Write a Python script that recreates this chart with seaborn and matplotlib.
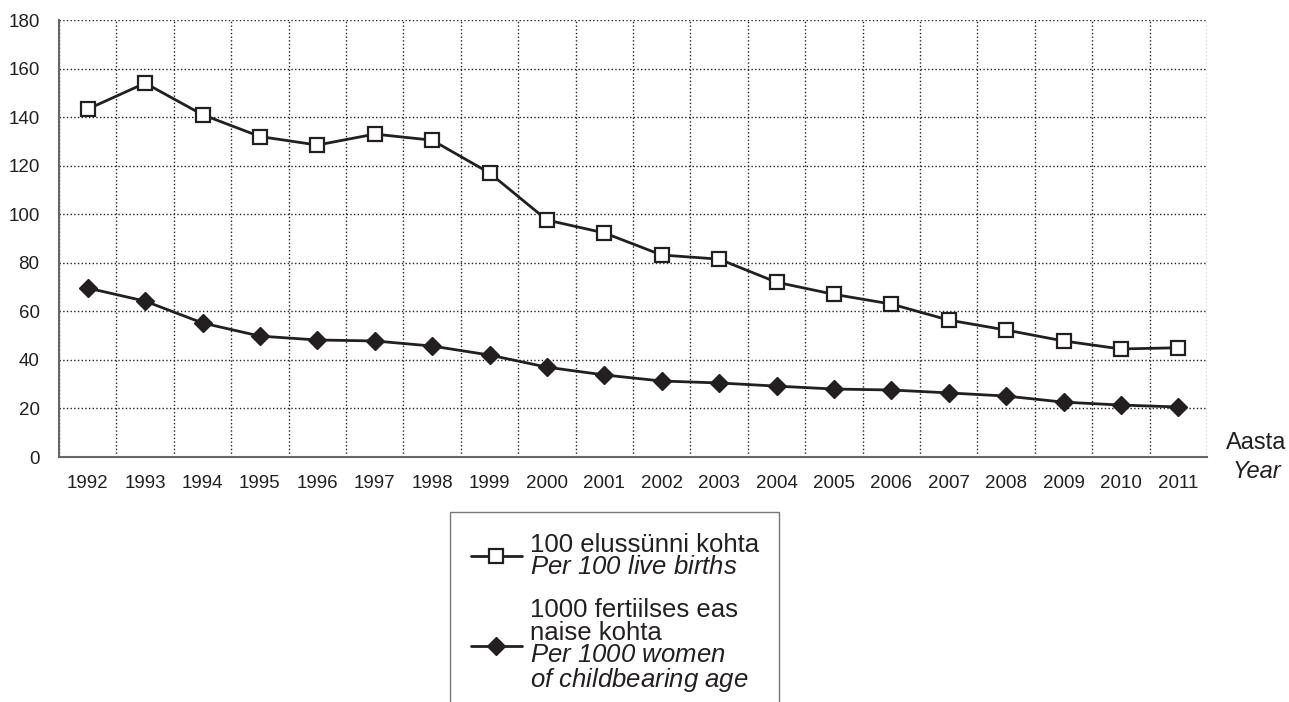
import numpy as np
import pandas as pd
import seaborn as sns
import matplotlib.pyplot as plt
from matplotlib.ticker import NullFormatter

years = [str(y) for y in range(1992, 2012)]
per_births = [143.3, 154, 141, 132, 128.5, 133, 130.5, 117, 97.6, 92.3,
              83.2, 81.5, 72, 67, 63, 56.4, 52.3, 47.8, 44.5, 45]
per_women = [69.6, 64.2, 55.2, 49.8, 48.2, 47.8, 45.7, 42, 37, 33.8,
             31.3, 30.5, 29.2, 28, 27.6, 26.4, 25.1, 22.6, 21.4, 20.6]

# italic english lines go through mathtext (rm and it both mapped to italic)
lab_births = "100 elussünni kohta\n$\\it{Per\\ 100\\ live\\ births}$"
lab_women = ("1000 fertiilses eas\nnaise kohta\n"
             "$\\it{Per\\ 1000\\ women}$\n$\\it{of\\ childbearing\\ age}$")

sns.set_style("white")
plt.rcParams["font.family"] = ["Liberation Sans", "DejaVu Sans"]
plt.rcParams["mathtext.fontset"] = "custom"
plt.rcParams["mathtext.rm"] = "Liberation Sans:italic"
plt.rcParams["mathtext.it"] = "Liberation Sans:italic"

ink = "#231f20"

fig = plt.figure(figsize=(12.89, 7.02), dpi=100)
ax = fig.add_axes([0.0458, 0.349, 0.8906, 0.6225])

df = pd.DataFrame({"Aasta": years, "births": per_births, "women": per_women})

sns.lineplot(data=df, x="Aasta", y="births", ax=ax, color=ink, lw=2,
             marker="s", markersize=10.5, markerfacecolor="white",
             markeredgecolor=ink, markeredgewidth=1.6, label=lab_births)
sns.lineplot(data=df, x="Aasta", y="women", ax=ax, color=ink, lw=2,
             marker="D", markersize=9.5, markerfacecolor=ink,
             markeredgecolor=ink, markeredgewidth=1, label=lab_women)

ax.set_xlim(-0.5, len(years) - 0.5)
ax.set_ylim(0, 180)
ax.set_yticks(range(0, 181, 20))
ax.set_xticks(np.arange(-0.5, len(years), 1))
ax.xaxis.set_major_formatter(NullFormatter())
ax.set_xticks(range(len(years)), labels=years, minor=True)
ax.set_xlabel("")
ax.set_ylabel("")

ax.set_axisbelow(True)
ax.grid(which="major", ls=":", color="#222222", lw=1)
for s in ["top", "right"]:
    ax.spines[s].set_visible(False)
for s in ["left", "bottom"]:
    ax.spines[s].set_color("#666666")
    ax.spines[s].set_linewidth(1.5)

ax.tick_params(axis="x", which="major", length=7, width=1.2, color="#666666")
ax.tick_params(axis="x", which="minor", length=0, pad=13)
ax.tick_params(axis="y", length=6, width=1.2, color="#666666", pad=8)
for t in ax.get_xticklabels(minor=True) + ax.get_yticklabels():
    t.set_fontsize(13.5)
    t.set_color(ink)

fig.text(1256 / 1289, 1 - 443 / 702, "Aasta", ha="center", va="center",
         fontsize=17, color=ink)
fig.text(1257 / 1289, 1 - 472 / 702, "Year", ha="center", va="center",
         fontsize=17, style="italic", color=ink)

handles, labels = ax.get_legend_handles_labels()
leg = ax.legend(handles, labels, loc="upper left",
                bbox_to_anchor=(450 / 1289, 1 - 512 / 702),
                bbox_transform=fig.transFigure, borderaxespad=0,
                fontsize=18.5, frameon=True, fancybox=False,
                edgecolor="#555555", borderpad=0.8, handlelength=2.0,
                handletextpad=0.3, labelspacing=0.75)
leg.get_frame().set_linewidth(1)
for t in leg.get_texts():
    t.set_linespacing(0.92)
    t.set_color(ink)

fig.savefig("out.png", dpi=100)
